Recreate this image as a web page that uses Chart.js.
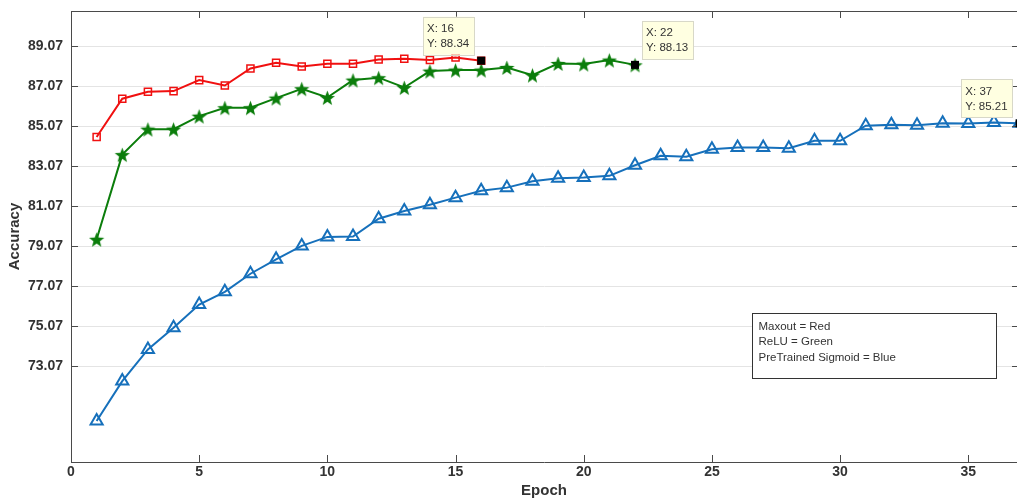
<!DOCTYPE html>
<html>
<head>
<meta charset="utf-8">
<script src="https://cdn.jsdelivr.net/npm/chart.js@4"></script>
<style>
    body { margin: 0; background: #fff; }
    canvas { display: block; }
</style>
</head>
<body>
<canvas id="accChart" width="1017" height="500"></canvas>
<script>
// ===== DATA =====
const epochs = [1, 2, 3, 4, 5, 6, 7, 8, 9, 10, 11, 12, 13, 14, 15, 16, 17, 18, 19, 20,
    21, 22, 23, 24, 25, 26, 27, 28, 29, 30, 31, 32, 33, 34, 35, 36, 37];

const maxoutAcc = [84.53, 86.44, 86.79, 86.82, 87.37, 87.10, 87.95, 88.24, 88.05, 88.19,
    88.19, 88.40, 88.44, 88.37, 88.50, 88.34];

const reluAcc = [79.42, 83.65, 84.92, 84.92, 85.57, 85.99, 85.99, 86.47, 86.94, 86.50,
    87.37, 87.49, 87.00, 87.82, 87.87, 87.87, 88.00, 87.62, 88.20, 88.17, 88.37, 88.13];

const sigmoidAcc = [70.35, 72.34, 73.92, 75.00, 76.16, 76.80, 77.70, 78.42, 79.09, 79.54,
    79.56, 80.45, 80.83, 81.15, 81.50, 81.84, 82.00, 82.32, 82.47, 82.50,
    82.59, 83.12, 83.59, 83.54, 83.92, 84.00, 84.00, 83.97, 84.34, 84.34,
    85.09, 85.14, 85.12, 85.22, 85.20, 85.25, 85.21];

const yTicks = [73.07, 75.07, 77.07, 79.07, 81.07, 83.07, 85.07, 87.07, 89.07];
const xTicks = [0, 5, 10, 15, 20, 25, 30, 35];

const noteLines = ['Maxout = Red', 'ReLU = Green', 'PreTrained Sigmoid = Blue'];

// which points carry a data tip: [dataset index, point index, side]
const dataTips = [[0, 15, 'left'], [1, 21, 'right'], [2, 36, 'left']];

// ===== HELPERS =====
const toPoints = (values) => values.map((v, i) => ({ x: epochs[i], y: v }));

function makeStar(color, size) {
    const c = document.createElement('canvas');
    c.width = size;
    c.height = size;
    const g = c.getContext('2d');
    const cx = size / 2, cy = size / 2 + 1;
    const R = size / 2 - 0.5, r = R * 0.42;
    g.beginPath();
    for (let i = 0; i < 10; i++) {
        const a = -Math.PI / 2 + i * Math.PI / 5;
        const rad = i % 2 ? r : R;
        g.lineTo(cx + rad * Math.cos(a), cy + rad * Math.sin(a));
    }
    g.closePath();
    g.fillStyle = color;
    g.fill();
    return c;
}

const FONT = '"Liberation Sans", Arial, Helvetica, sans-serif';
const AXIS_COLOR = '#4a4a4a';
const TEXT_COLOR = '#333333';

// Box top edge, inward ticks, data tips and the note box
const matlabDecor = {
    id: 'matlabDecor',
    afterDatasetsDraw(chart) {
        const { ctx, chartArea: a, scales: { x, y } } = chart;
        ctx.save();

        // top edge + inward ticks (right edge falls just outside the picture)
        ctx.strokeStyle = AXIS_COLOR;
        ctx.lineWidth = 1;
        ctx.beginPath();
        ctx.moveTo(a.left, a.top + 0.5);
        ctx.lineTo(a.right, a.top + 0.5);
        xTicks.forEach(v => {
            const px = Math.round(x.getPixelForValue(v)) + 0.5;
            ctx.moveTo(px, a.bottom);
            ctx.lineTo(px, a.bottom - 7);
            ctx.moveTo(px, a.top);
            ctx.lineTo(px, a.top + 7);
        });
        yTicks.forEach(v => {
            const py = Math.round(y.getPixelForValue(v)) + 0.5;
            ctx.moveTo(a.left, py);
            ctx.lineTo(a.left + 7, py);
            ctx.moveTo(a.right, py);
            ctx.lineTo(a.right - 5, py);
        });
        ctx.stroke();

        // data tips
        ctx.font = '11.5px ' + FONT;
        dataTips.forEach(([dsIdx, ptIdx, side]) => {
            const val = chart.data.datasets[dsIdx].data[ptIdx];
            const px = x.getPixelForValue(val.x);
            const py = y.getPixelForValue(val.y);

            ctx.fillStyle = '#000';
            ctx.fillRect(px - 4, py - 4, 8, 8);

            const lines = ['X: ' + val.x, 'Y: ' + val.y.toFixed(2)];
            const w = Math.max(...lines.map(l => ctx.measureText(l).width)) + 9;
            const h = 38;
            const bx = side === 'left' ? px - 7 - w : px + 7;
            const by = py - 6 - h;
            ctx.fillStyle = '#ffffe1';
            ctx.fillRect(bx, by, w, h);
            ctx.strokeStyle = '#d8d8c8';
            ctx.strokeRect(Math.round(bx) + 0.5, Math.round(by) + 0.5, Math.round(w), h);
            ctx.fillStyle = TEXT_COLOR;
            ctx.textBaseline = 'middle';
            ctx.textAlign = 'left';
            ctx.fillText(lines[0], bx + 4, by + 12);
            ctx.fillText(lines[1], bx + 4, by + 27);
        });

        // note box
        const nx = Math.round(x.getPixelForValue(26.55)) + 0.5;
        const ny = Math.round(y.getPixelForValue(75.73)) + 0.5;
        ctx.fillStyle = '#fff';
        ctx.fillRect(nx, ny, 244, 65);
        ctx.strokeStyle = '#333';
        ctx.strokeRect(nx, ny, 244, 65);
        ctx.fillStyle = TEXT_COLOR;
        ctx.font = '11.5px ' + FONT;
        ctx.textBaseline = 'middle';
        noteLines.forEach((t, i) => ctx.fillText(t, nx + 6, ny + 13 + i * 15.8));

        ctx.restore();
    }
};

// ===== CHART =====
const ctx = document.getElementById('accChart').getContext('2d');

new Chart(ctx, {
    type: 'line',
    data: {
        datasets: [{
            label: 'Maxout',
            data: toPoints(maxoutAcc),
            borderColor: '#f01010',
            borderWidth: 2,
            pointStyle: 'rect',
            pointRadius: 5,
            pointBorderWidth: 1.5,
            pointBorderColor: '#f01010',
            pointBackgroundColor: 'rgba(255,255,255,0)',
            tension: 0
        }, {
            label: 'ReLU',
            data: toPoints(reluAcc),
            borderColor: '#0b7d0b',
            borderWidth: 2,
            pointStyle: makeStar('#0b7d0b', 17),
            pointRadius: 8,
            tension: 0
        }, {
            label: 'PreTrained Sigmoid',
            data: toPoints(sigmoidAcc),
            borderColor: '#1670bb',
            borderWidth: 2,
            pointStyle: 'triangle',
            pointRadius: 7,
            pointBorderWidth: 2,
            pointBorderColor: '#1670bb',
            pointBackgroundColor: 'rgba(255,255,255,0)',
            tension: 0,
            clip: false
        }]
    },
    options: {
        responsive: false,
        devicePixelRatio: 1,
        animation: false,
        layout: { autoPadding: false, padding: { top: 11, right: 0, left: 0, bottom: 0 } },
        plugins: {
            legend: { display: false },
            tooltip: { enabled: false }
        },
        scales: {
            x: {
                type: 'linear',
                min: 0,
                max: 36.9,
                afterBuildTicks: (scale) => { scale.ticks = xTicks.map(v => ({ value: v })); },
                afterFit: (scale) => {
                    scale.height = 38;
                    scale.paddingLeft = 0;
                    scale.paddingRight = 0;
                },
                grid: { display: false, drawTicks: false },
                border: { display: true, color: AXIS_COLOR, width: 1 },
                ticks: {
                    padding: 2,
                    maxRotation: 0,
                    color: TEXT_COLOR,
                    font: { family: FONT, size: 14, weight: 'bold' }
                },
                title: {
                    display: true,
                    text: 'Epoch',
                    color: TEXT_COLOR,
                    padding: { top: 0, bottom: 0 },
                    font: { family: FONT, size: 15, weight: 'bold' }
                }
            },
            y: {
                min: 68.3,
                max: 90.82,
                afterBuildTicks: (scale) => { scale.ticks = yTicks.map(v => ({ value: v })); },
                afterFit: (scale) => {
                    scale.width = 71;
                    scale.paddingTop = 0;
                    scale.paddingBottom = 0;
                },
                grid: { color: '#e4e4e4', drawTicks: false },
                border: { display: true, color: AXIS_COLOR, width: 1 },
                ticks: {
                    padding: 8,
                    color: TEXT_COLOR,
                    callback: (v) => Number(v).toFixed(2),
                    font: { family: FONT, size: 14, weight: 'bold' }
                },
                title: {
                    display: true,
                    text: 'Accuracy',
                    color: TEXT_COLOR,
                    padding: { top: 6, bottom: 0 },
                    font: { family: FONT, size: 15, weight: 'bold' }
                }
            }
        }
    },
    plugins: [matlabDecor]
});
</script>
</body>
</html>
